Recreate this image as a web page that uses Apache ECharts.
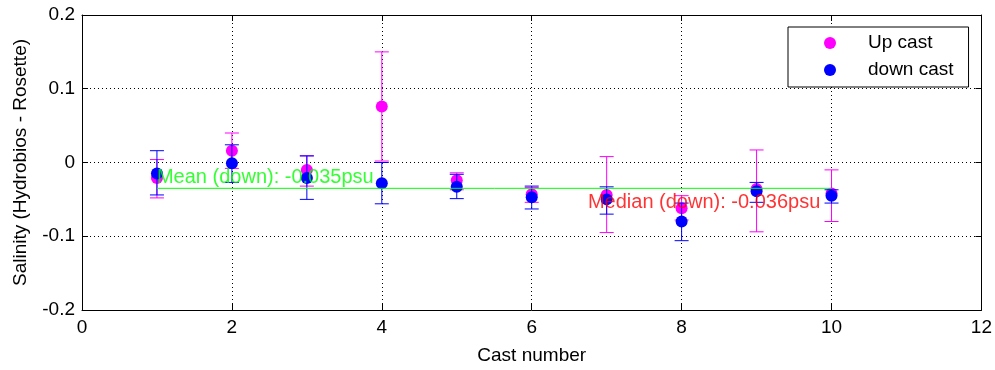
<!DOCTYPE html>
<html>
<head>
<meta charset="utf-8">
<script src="https://cdn.jsdelivr.net/npm/echarts@6/dist/echarts.min.js"></script>
<style>html,body{margin:0;padding:0;background:#fff}#c{width:995px;height:370px}</style>
</head>
<body>
<div id="c"></div>
<script>
var casts = [1, 2, 3, 4, 5, 6, 7, 8, 9, 10];
var upVal  = [-0.021, 0.016, -0.010, 0.076, -0.024, -0.043, -0.044, -0.062, -0.036, -0.042];
var upLow  = [-0.048, -0.008, -0.032, 0.002, -0.037, -0.054, -0.095, -0.078, -0.094, -0.080];
var upHigh = [0.004, 0.040, 0.009, 0.150, -0.014, -0.034, 0.008, -0.045, 0.017, -0.010];
var downVal  = [-0.015, -0.001, -0.021, -0.028, -0.033, -0.047, -0.050, -0.080, -0.039, -0.045];
var downLow  = [-0.044, -0.027, -0.050, -0.056, -0.049, -0.063, -0.070, -0.106, -0.054, -0.055];
var downHigh = [0.016, 0.024, 0.009, 0.000, -0.016, -0.032, -0.033, -0.055, -0.027, -0.037];
var meanDown = -0.035;
var meanRange = [1, 10];
var meanText = 'Mean (down): -0.035psu';
var meanTextPos = [1, -0.020];
var medianText = 'Median (down): -0.036psu';
var medianTextPos = [6.75, -0.054];
var xTicks = [0, 2, 4, 6, 8, 10, 12];
var yTicks = [-0.2, -0.1, 0, 0.1, 0.2];

var FONT = 'Liberation Sans, Arial, sans-serif';
function errData(low, high) {
  return casts.map(function (c, i) { return [c, low[i], high[i]]; });
}
function ptData(v) {
  return casts.map(function (c, i) { return [c, v[i]]; });
}
function errRender(color) {
  return function (params, api) {
    var x = api.value(0);
    var lo = api.coord([x, api.value(1)]);
    var hi = api.coord([x, api.value(2)]);
    var hw = 7;
    var st = { stroke: color, lineWidth: 1 };
    return {
      type: 'group',
      children: [
        { type: 'line', shape: { x1: lo[0], y1: lo[1], x2: hi[0], y2: hi[1] }, style: st },
        { type: 'line', shape: { x1: lo[0] - hw, y1: lo[1], x2: lo[0] + hw, y2: lo[1] }, style: st },
        { type: 'line', shape: { x1: hi[0] - hw, y1: hi[1], x2: hi[0] + hw, y2: hi[1] }, style: st }
      ]
    };
  };
}
function aLine() { return { show: true, onZero: false, lineStyle: { color: '#000', width: 1 } }; }
function aTick() { return { show: true, inside: true, length: 6, lineStyle: { color: '#000', width: 1 } }; }
var chart = echarts.init(document.getElementById('c'), null, { renderer: 'canvas' });
chart.setOption({
  animation: false,
  backgroundColor: '#fff',
  grid: { left: 82, right: 13, top: 15, bottom: 60, show: false },
  legend: {
    data: ['Up cast', 'down cast'],
    orient: 'vertical',
    left: 788, top: 27,
    backgroundColor: '#fff',
    borderColor: '#000', borderWidth: 1, borderRadius: 0,
    padding: [6, 15, 7, 36],
    itemWidth: 12, itemHeight: 12, itemGap: 7,
    icon: 'circle',
    textStyle: { fontFamily: FONT, fontSize: 19, lineHeight: 20, color: '#000', padding: [0, 0, 0, 27] }
  },
  xAxis: [{
    type: 'value', min: 0, max: 12, interval: 2,
    name: 'Cast number', nameLocation: 'middle', nameGap: 36,
    nameTextStyle: { fontFamily: FONT, fontSize: 19, color: '#000' },
    axisLabel: { fontFamily: FONT, fontSize: 19, color: '#000', margin: 8,
      formatter: function (v) { return xTicks.indexOf(v) >= 0 ? String(v) : ''; } },
    splitLine: { show: true, lineStyle: { color: '#000', type: [1, 3], width: 1 } },
    axisLine: aLine(), axisTick: aTick()
  }, {
    type: 'value', min: 0, max: 12, interval: 2, position: 'top',
    axisLabel: { show: false }, splitLine: { show: false },
    axisLine: aLine(), axisTick: aTick()
  }],
  yAxis: [{
    type: 'value', min: -0.2, max: 0.2, interval: 0.1,
    name: 'Salinity (Hydrobios - Rosette)', nameLocation: 'middle', nameGap: 52,
    nameTextStyle: { fontFamily: FONT, fontSize: 19, color: '#000' },
    axisLabel: { fontFamily: FONT, fontSize: 19, color: '#000', margin: 7,
      formatter: function (v) { var r = Math.round(v * 10) / 10; return String(r); } },
    splitLine: { show: true, lineStyle: { color: '#000', type: [1, 3], width: 1 } },
    axisLine: aLine(), axisTick: aTick()
  }, {
    type: 'value', min: -0.2, max: 0.2, interval: 0.1, position: 'right',
    axisLabel: { show: false }, splitLine: { show: false },
    axisLine: aLine(), axisTick: aTick()
  }],
  series: [
    { type: 'custom', name: 'upErr', renderItem: errRender('#ff00ff'), data: errData(upLow, upHigh), z: 2, silent: true },
    { type: 'scatter', name: 'Up cast', data: ptData(upVal), symbol: 'circle', symbolSize: 12,
      itemStyle: { color: '#ff00ff', opacity: 1 }, z: 3 },
    { type: 'custom', name: 'downErr', renderItem: errRender('#0000ff'), data: errData(downLow, downHigh), z: 4, silent: true },
    { type: 'scatter', name: 'down cast', data: ptData(downVal), symbol: 'circle', symbolSize: 12,
      itemStyle: { color: '#0000ff', opacity: 1 }, z: 5 },
    { type: 'line', name: 'mean', data: [[meanRange[0], meanDown], [meanRange[1], meanDown]],
      symbol: 'none', lineStyle: { color: '#00ff00', width: 1 }, z: 6, silent: true },
    { type: 'scatter', name: 'meanLabel', data: [meanTextPos], symbolSize: 0, z: 7, silent: true,
      label: { show: true, position: 'right', distance: 0, formatter: meanText,
        fontFamily: FONT, fontSize: 20, color: '#00ff00' } },
    { type: 'scatter', name: 'medianLabel', data: [medianTextPos], symbolSize: 0, z: 7, silent: true,
      label: { show: true, position: 'right', distance: 0, formatter: medianText,
        fontFamily: FONT, fontSize: 20, color: '#ff0000' } }
  ]
});
</script>
</body>
</html>
